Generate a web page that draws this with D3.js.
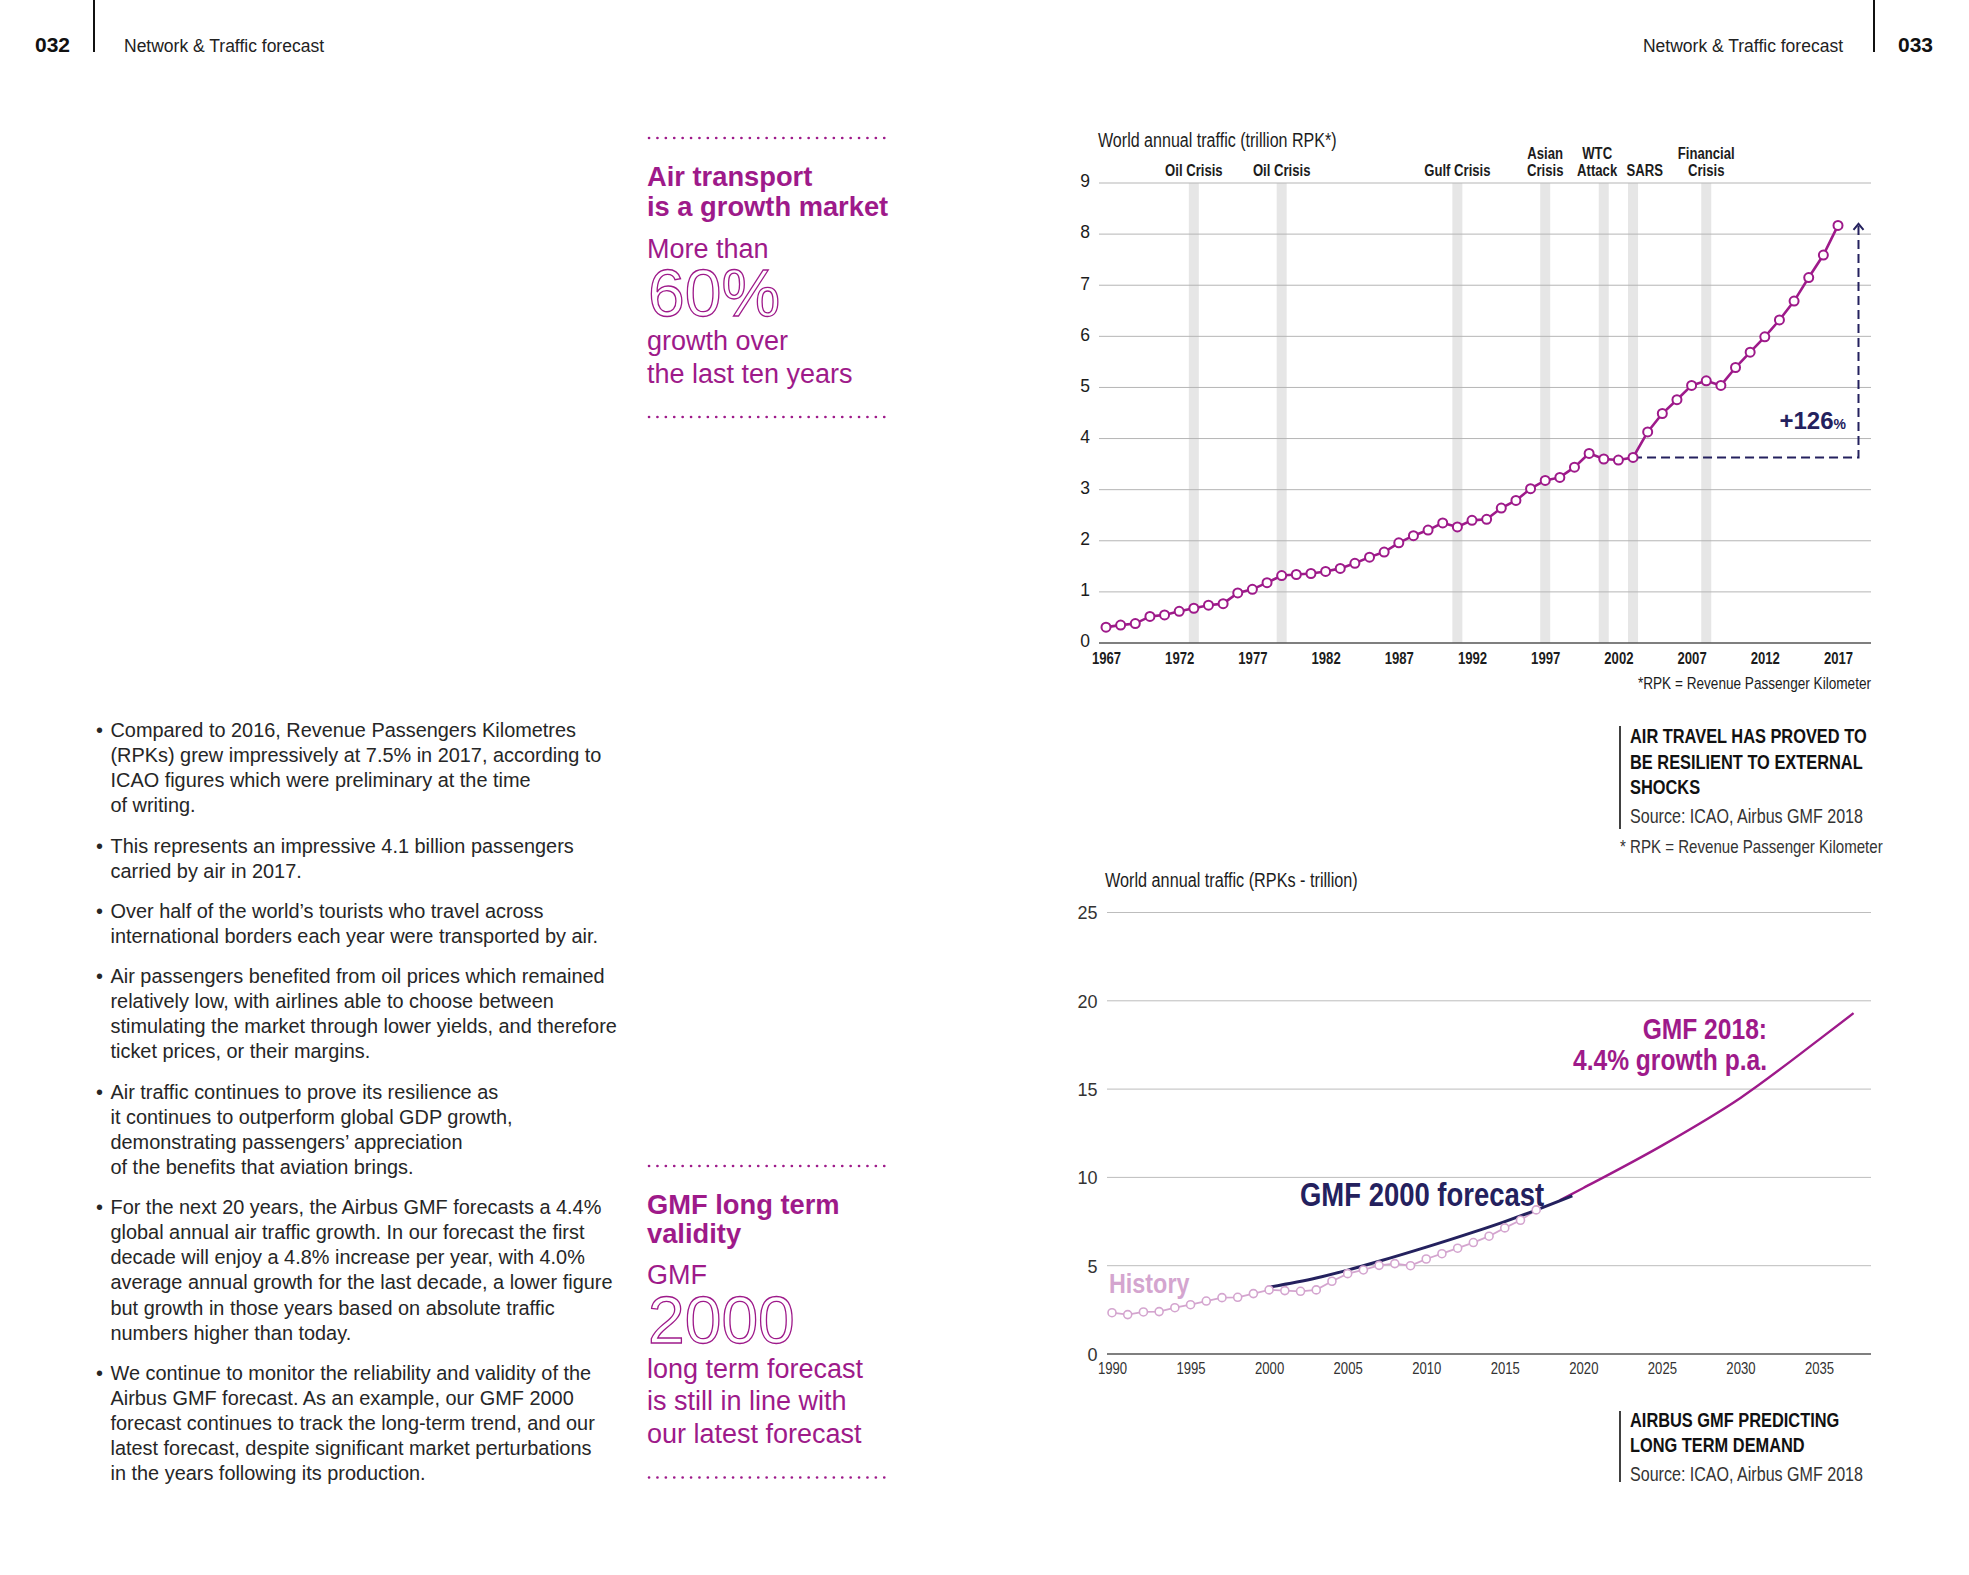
<!DOCTYPE html>
<html><head><meta charset="utf-8">
<script src="https://cdn.jsdelivr.net/npm/d3@7"></script>
<style>body{margin:0;background:#fff}svg{display:block}</style>
</head><body>
<svg id="c" width="1969" height="1575"></svg>
<script>
// ---------- DATA ----------
const rpkYears = d3.range(1967, 2018);
const rpkValues = [0.31,0.35,0.38,0.52,0.55,0.62,0.68,0.74,0.77,0.98,
  1.05,1.18,1.32,1.34,1.36,1.40,1.46,1.56,1.68,1.78,
  1.96,2.10,2.21,2.35,2.27,2.40,2.42,2.64,2.79,3.02,
  3.18,3.24,3.44,3.71,3.60,3.58,3.63,4.13,4.49,4.76,
  5.04,5.13,5.04,5.39,5.69,5.99,6.32,6.69,7.15,7.59,
  8.17];
const crisisYears = [1973, 1979, 1991, 1997, 2001, 2003, 2008];
const crisisLabels = [["Oil Crisis"],["Oil Crisis"],["Gulf Crisis"],["Asian","Crisis"],["WTC","Attack"],["SARS"],["Financial","Crisis"]];
const xTicks1 = [1967,1972,1977,1982,1987,1992,1997,2002,2007,2012,2017];
const yTicks1 = [0,1,2,3,4,5,6,7,8,9];
const growthStartYear = 2003;
const growthLabel = "+126";

const histYears = d3.range(1990, 2018);
const histValues = [2.34,2.23,2.38,2.40,2.62,2.79,3.00,3.19,3.21,3.42,
  3.63,3.59,3.55,3.63,4.12,4.55,4.76,5.02,5.12,5.00,
  5.38,5.68,5.99,6.31,6.67,7.14,7.57,8.16];
const gmf2000Years = [2000,2003,2005,2007,2010,2013,2015,2017,2019.3];
const gmf2000Values = [3.78,4.30,4.75,5.25,6.05,6.90,7.50,8.15,8.95];
const gmf2018Years = [2018.5,2020,2025,2030,2035,2037.2];
const gmf2018Values = [8.70,9.40,11.80,14.50,17.80,19.30];
const xTicks2 = [1990,1995,2000,2005,2010,2015,2020,2025,2030,2035];
const yTicks2 = [0,5,10,15,20,25];

const bullets = [
  ["Compared to 2016, Revenue Passengers Kilometres","(RPKs) grew impressively at 7.5% in 2017, according to","ICAO figures which were preliminary at the time","of writing."],
  ["This represents an impressive 4.1 billion passengers","carried by air in 2017."],
  ["Over half of the world\u2019s tourists who travel across","international borders each year were transported by air."],
  ["Air passengers benefited from oil prices which remained","relatively low, with airlines able to choose between","stimulating the market through lower yields, and therefore","ticket prices, or their margins."],
  ["Air traffic continues to prove its resilience as","it continues to outperform global GDP growth,","demonstrating passengers\u2019 appreciation","of the benefits that aviation brings."],
  ["For the next 20 years, the Airbus GMF forecasts a 4.4%","global annual air traffic growth. In our forecast the first","decade will enjoy a 4.8% increase per year, with 4.0%","average annual growth for the last decade, a lower figure","but growth in those years based on absolute traffic","numbers higher than today."],
  ["We continue to monitor the reliability and validity of the","Airbus GMF forecast. As an example, our GMF 2000","forecast continues to track the long-term trend, and our","latest forecast, despite significant market perturbations","in the years following its production."]
];

// ---------- STYLE ----------
const MAG = "#9e1a8a", NAVY = "#24215e", PINK = "#d4a5cf", INK = "#1c1c1c";
function fontAvailable(name){
  const ctx = document.createElement('canvas').getContext('2d');
  const s = 'The quick brown fox 0123456789 WMW';
  ctx.font = 'bold 40px monospace'; const a = ctx.measureText(s).width;
  ctx.font = `bold 40px "${name}", monospace`; const b = ctx.measureText(s).width;
  ctx.font = 'bold 40px serif'; const c = ctx.measureText(s).width;
  ctx.font = `bold 40px "${name}", serif`; const d = ctx.measureText(s).width;
  return a !== b || c !== d;
}
const NARROW_OK = fontAvailable('Liberation Sans Narrow');
const NF = NARROW_OK ? '"Liberation Sans Narrow","Liberation Sans",Arial,sans-serif' : '"Liberation Sans",Arial,sans-serif';
const NS = NARROW_OK ? 1 : 0.82;
const RF = '"Liberation Sans",Arial,Helvetica,sans-serif';

const svg = d3.select('#c');
svg.append('rect').attr('width',1969).attr('height',1575).attr('fill','#fff');

function ntext(p, x, y, str, size, weight, fill, anchor){
  return p.append('text').attr('transform',`translate(${x},${y}) scale(${NS},1)`)
    .attr('font-family',NF).attr('font-size',size).attr('font-weight',weight)
    .attr('fill',fill).attr('text-anchor',anchor||'start').text(str);
}
function rtext(p, x, y, str, size, weight, fill, anchor){
  return p.append('text').attr('x',x).attr('y',y).attr('font-family',RF)
    .attr('font-size',size).attr('font-weight',weight).attr('fill',fill)
    .attr('text-anchor',anchor||'start').text(str);
}

// ---------- HEADER ----------
const hd = svg.append('g');
rtext(hd, 35, 52, "032", 21, 'bold', '#111');
hd.append('line').attr('x1',94).attr('x2',94).attr('y1',0).attr('y2',52).attr('stroke','#111').attr('stroke-width',2);
rtext(hd, 124, 52, "Network & Traffic forecast", 17.5, 'normal', '#222');
rtext(hd, 1843, 52, "Network & Traffic forecast", 17.5, 'normal', '#222', 'end');
hd.append('line').attr('x1',1874).attr('x2',1874).attr('y1',0).attr('y2',52).attr('stroke','#111').attr('stroke-width',2);
rtext(hd, 1898, 52, "033", 21, 'bold', '#111');

// ---------- BODY TEXT ----------
const body = svg.append('g');
let by = 737;
bullets.forEach(par => {
  rtext(body, 96, by, "\u2022", 19.9, 'normal', '#262626');
  par.forEach((ln, i) => { rtext(body, 110.5, by + i*25.1, ln, 19.9, 'normal', '#262626'); });
  by += (par.length - 1)*25.1 + 40.2;
});

// ---------- CALLOUTS ----------
function dots(y){
  svg.append('line').attr('x1',649).attr('x2',891).attr('y1',y).attr('y2',y)
    .attr('stroke',MAG).attr('stroke-width',2.6).attr('stroke-linecap','round')
    .attr('stroke-dasharray','0.1,8.3');
}
const cx = 647;
dots(138);
rtext(svg, cx, 186, "Air transport", 27.3, 'bold', MAG);
rtext(svg, cx, 216, "is a growth market", 27.3, 'bold', MAG);
rtext(svg, cx, 258, "More than", 27, 'normal', MAG);
rtext(svg, cx+1, 316, "60%", 66, 'normal', '#fff').attr('stroke',MAG).attr('stroke-width',1.3);
rtext(svg, cx, 350, "growth over", 27, 'normal', MAG);
rtext(svg, cx, 383, "the last ten years", 27, 'normal', MAG);
dots(417);

dots(1166);
rtext(svg, cx, 1214, "GMF long term", 27.3, 'bold', MAG);
rtext(svg, cx, 1243, "validity", 27.3, 'bold', MAG);
rtext(svg, cx, 1284, "GMF", 27, 'normal', MAG);
rtext(svg, cx+1, 1343, "2000", 66, 'normal', '#fff').attr('stroke',MAG).attr('stroke-width',1.3);
rtext(svg, cx, 1378, "long term forecast", 27, 'normal', MAG);
rtext(svg, cx, 1410, "is still in line with", 27, 'normal', MAG);
rtext(svg, cx, 1442.5, "our latest forecast", 27, 'normal', MAG);
dots(1477.5);

// ---------- CHART 1 ----------
const c1 = svg.append('g');
const x1 = d3.scaleLinear().domain([1967, 2017]).range([1106, 1838]);
const y1 = d3.scaleLinear().domain([0, 9]).range([643, 183]);
const gx0 = 1099, gx1 = 1871;

ntext(c1, 1098, 147, "World annual traffic (trillion RPK*)", 19.6, 'normal', INK);

c1.selectAll('rect.band').data(crisisYears).enter().append('rect')
  .attr('x', d => x1(d) - 5).attr('width', 10)
  .attr('y', y1(9)).attr('height', y1(0) - y1(9)).attr('fill', '#e6e6e6');

c1.selectAll('line.grid').data(yTicks1.filter(d => d > 0)).enter().append('line')
  .attr('x1', gx0).attr('x2', gx1).attr('y1', d => y1(d)).attr('y2', d => y1(d))
  .attr('stroke', '#b5b5b5').attr('stroke-width', 1);
c1.append('line').attr('x1', gx0).attr('x2', gx1).attr('y1', y1(0)).attr('y2', y1(0))
  .attr('stroke', '#555').attr('stroke-width', 1.6);

const labelShift = {2001: -0.45, 2003: 0.8};
crisisYears.forEach((yr, i) => {
  const lines = crisisLabels[i];
  const lx = x1(yr + (labelShift[yr] || 0));
  lines.forEach((t, j) => {
    ntext(c1, lx, 176 - (lines.length - 1 - j)*17, t, 16, 'bold', INK, 'middle');
  });
});

const ax1 = c1.append('g').attr('transform', `translate(0,${y1(0)})`)
  .call(d3.axisBottom(x1).tickValues(xTicks1).tickSize(0).tickFormat(d3.format('d')));
ax1.select('.domain').remove();
ax1.selectAll('text').attr('y', 21).attr('dy', 0).attr('font-family', NF).attr('font-size', 16)
  .attr('font-weight', 'bold').attr('fill', INK).attr('transform', `scale(${NS},1)`);
const ay1 = c1.append('g').attr('transform', `translate(1090,0)`)
  .call(d3.axisLeft(y1).tickValues(yTicks1).tickSize(0).tickPadding(0));
ay1.select('.domain').remove();
ay1.selectAll('text').attr('x', 0).attr('dy', '0.22em').attr('font-family', NF).attr('font-size', 17.5)
  .attr('font-weight', 'normal').attr('fill', INK).attr('text-anchor', 'end');

const gStartVal = rpkValues[rpkYears.indexOf(growthStartYear)];
const arrowYear = 2018.4, arrowTop = 8.2;
c1.append('path')
  .attr('d', `M${x1(growthStartYear)},${y1(gStartVal)}H${x1(arrowYear)}V${y1(arrowTop)}`)
  .attr('fill', 'none').attr('stroke', NAVY).attr('stroke-width', 2).attr('stroke-dasharray', '9,5');
c1.append('path')
  .attr('d', `M${x1(arrowYear)-5},${y1(arrowTop)+6}L${x1(arrowYear)},${y1(arrowTop)}L${x1(arrowYear)+5},${y1(arrowTop)+6}`)
  .attr('fill', 'none').attr('stroke', NAVY).attr('stroke-width', 2);
const gt = c1.append('text').attr('x', 1846).attr('y', 429).attr('text-anchor', 'end')
  .attr('font-family', RF).attr('font-weight', 'bold').attr('fill', NAVY);
gt.append('tspan').attr('font-size', 24).text(growthLabel);
gt.append('tspan').attr('font-size', 14).text('%');

const rpk = rpkYears.map((y, i) => ({year: y, v: rpkValues[i]}));
c1.append('path').datum(rpk)
  .attr('d', d3.line().x(d => x1(d.year)).y(d => y1(d.v)))
  .attr('fill', 'none').attr('stroke', MAG).attr('stroke-width', 2.6);
c1.selectAll('circle.p').data(rpk).enter().append('circle')
  .attr('cx', d => x1(d.year)).attr('cy', d => y1(d.v)).attr('r', 4.5)
  .attr('fill', '#fff').attr('stroke', MAG).attr('stroke-width', 2);

ntext(c1, 1871, 689, "*RPK = Revenue Passenger Kilometer", 16.6, 'normal', INK, 'end');

c1.append('line').attr('x1', 1620).attr('x2', 1620).attr('y1', 726).attr('y2', 829).attr('stroke', '#111').attr('stroke-width', 1.6);
ntext(c1, 1630, 743, "AIR TRAVEL HAS PROVED TO", 20, 'bold', '#111');
ntext(c1, 1630, 768.5, "BE RESILIENT TO EXTERNAL", 20, 'bold', '#111');
ntext(c1, 1630, 793.6, "SHOCKS", 20, 'bold', '#111');
ntext(c1, 1630, 822.5, "Source: ICAO, Airbus GMF 2018", 19.6, 'normal', '#333');
ntext(c1, 1620, 852.6, "* RPK = Revenue Passenger Kilometer", 18.4, 'normal', '#333');

// ---------- CHART 2 ----------
const c2 = svg.append('g');
const x2 = d3.scaleLinear().domain([1990, 2035]).range([1112, 1819]);
const y2 = d3.scaleLinear().domain([0, 25]).range([1354, 912.5]);
const hx0 = 1107, hx1 = 1871;

ntext(c2, 1105, 886.5, "World annual traffic (RPKs - trillion)", 19.8, 'normal', INK);

c2.selectAll('line.grid').data(yTicks2.filter(d => d > 0)).enter().append('line')
  .attr('x1', hx0).attr('x2', hx1).attr('y1', d => y2(d)).attr('y2', d => y2(d))
  .attr('stroke', '#bdbdbd').attr('stroke-width', 1);
c2.append('line').attr('x1', hx0).attr('x2', hx1).attr('y1', y2(0)).attr('y2', y2(0))
  .attr('stroke', '#555').attr('stroke-width', 1.6);

const ax2 = c2.append('g').attr('transform', `translate(0,${y2(0)})`)
  .call(d3.axisBottom(x2).tickValues(xTicks2).tickSize(0).tickFormat(d3.format('d')));
ax2.select('.domain').remove();
ax2.selectAll('text').attr('y', 20).attr('dy', 0).attr('font-family', NF).attr('font-size', 16)
  .attr('fill', '#333').attr('transform', `scale(${NS},1)`);
const ay2 = c2.append('g').attr('transform', `translate(1097.5,0)`)
  .call(d3.axisLeft(y2).tickValues(yTicks2).tickSize(0).tickPadding(0));
ay2.select('.domain').remove();
ay2.selectAll('text').attr('x', 0).attr('dy', '0.36em').attr('font-family', NF).attr('font-size', 18)
  .attr('fill', '#333').attr('text-anchor', 'end');

const hist = histYears.map((y, i) => ({year: y, v: histValues[i]}));
const g18 = gmf2018Years.map((y, i) => ({year: y, v: gmf2018Values[i]}));
const g00 = gmf2000Years.map((y, i) => ({year: y, v: gmf2000Values[i]}));
const line2 = d3.line().x(d => x2(d.year)).y(d => y2(d.v));
const smooth2 = d3.line().x(d => x2(d.year)).y(d => y2(d.v)).curve(d3.curveMonotoneX);

c2.append('path').datum(hist).attr('d', line2).attr('fill', 'none').attr('stroke', PINK).attr('stroke-width', 1.8);
c2.append('path').datum(g18).attr('d', smooth2).attr('fill', 'none').attr('stroke', MAG).attr('stroke-width', 2.4);
c2.append('path').datum(g00).attr('d', smooth2).attr('fill', 'none').attr('stroke', NAVY).attr('stroke-width', 3);
c2.selectAll('circle.h').data(hist).enter().append('circle')
  .attr('cx', d => x2(d.year)).attr('cy', d => y2(d.v)).attr('r', 4)
  .attr('fill', '#fff').attr('stroke', PINK).attr('stroke-width', 1.6);

ntext(c2, 1109, 1293, "History", 28.5, 'bold', PINK);
ntext(c2, 1300, 1206, "GMF 2000 forecast", 33.5, 'bold', NAVY);
ntext(c2, 1767, 1039, "GMF 2018:", 30, 'bold', MAG, 'end');
ntext(c2, 1767, 1069.5, "4.4% growth p.a.", 30, 'bold', MAG, 'end');

c2.append('line').attr('x1', 1620).attr('x2', 1620).attr('y1', 1411).attr('y2', 1482).attr('stroke', '#111').attr('stroke-width', 1.6);
ntext(c2, 1630, 1426.5, "AIRBUS GMF PREDICTING", 20, 'bold', '#111');
ntext(c2, 1630, 1451.6, "LONG TERM DEMAND", 20, 'bold', '#111');
ntext(c2, 1630, 1480.5, "Source: ICAO, Airbus GMF 2018", 19.6, 'normal', '#333');
</script>
</body></html>
